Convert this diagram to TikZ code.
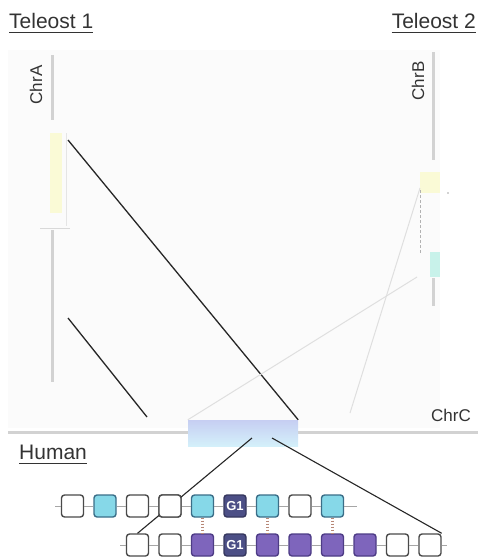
\documentclass[tikz,border=0pt]{standalone}
\usepackage{fontspec}
\setmainfont{Liberation Sans}
\usetikzlibrary{calc}
\definecolor{txt}{HTML}{333333}
\definecolor{chrgray}{HTML}{D2D2D2}
\definecolor{panel}{HTML}{FBFBFB}
\definecolor{cyanbox}{HTML}{86D8E8}
\definecolor{cyanedge}{HTML}{3A6E88}
\definecolor{purplebox}{HTML}{7E65BC}
\definecolor{purpleedge}{HTML}{4E3C86}
\definecolor{gonebox}{HTML}{4C4F86}
\definecolor{boxedge}{HTML}{4A4A4A}
\definecolor{lav}{HTML}{C6CEF2}
\definecolor{lcyan}{HTML}{D4F0FA}
\definecolor{pyellow}{HTML}{FAFAD6}
\definecolor{pcyan}{HTML}{C8F2EA}
\definecolor{dotc}{HTML}{B88878}
\begin{document}
\begin{tikzpicture}[x=1pt,y=-1pt,
 lbl/.style={text=txt,font=\fontsize{21}{24}\selectfont,inner sep=0},
 chrlbl/.style={text=txt,font=\fontsize{17}{20}\selectfont,inner sep=0},
 chr/.style={draw=chrgray,line width=3pt},
 gene/.style={rounded corners=3pt,minimum width=22pt,minimum height=22pt,inner sep=0,line width=1.4pt,draw=boxedge,fill=white},
 gwhite/.style={gene},
 gcyan/.style={gene,fill=cyanbox,draw=cyanedge},
 gpurple/.style={gene,fill=purplebox,draw=purpleedge},
 gone/.style={gene,fill=gonebox,draw=gonebox!70!black,text=white,font=\fontsize{13}{14}\selectfont\bfseries},
 link/.style={draw=gray!70,line width=0.9pt},
 ortho/.style={draw=dotc,line width=2.4pt,dash pattern=on 1.5pt off 1.5pt},
 syn/.style={draw=black!85,line width=1.3pt},
 faint/.style={draw=gray!25,line width=1pt},
 ul/.style={draw=txt,line width=0.8pt},
 block/.style={inner sep=0,draw=none}
]
\useasboundingbox (0,0) rectangle (478,557);
\fill[white] (0,0) rectangle (478,557);
% background panel
\fill[panel] (8,50) rectangle (440,428);

% titles
\node[lbl,anchor=south west] (t1) at (9,29) {Teleost 1};
\draw[ul] ($(t1.south west)+(0,3)$) -- ($(t1.south east)+(0,3)$);
\node[lbl,anchor=south east] (t2) at (476,29) {Teleost 2};
\draw[ul] ($(t2.south west)+(0,3)$) -- ($(t2.south east)+(0,3)$);
\node[lbl,anchor=south west] (hu) at (19,460) {Human};
\draw[ul] ($(hu.south west)+(0,3)$) -- ($(hu.south east)+(0,3)$);

% ChrA
\node[chrlbl,rotate=90] (lA) at (36,85) {ChrA};
\coordinate (A1) at (52,55);
\coordinate (A2) at (52,120);
\draw[chr] (A1) -- (A2);
\node[block,fill=pyellow,minimum width=12pt,minimum height=80pt] (yA) at (56,173) {};
\coordinate (A3) at (66,133);
\coordinate (A4) at (66,226);
\draw[draw=gray!20,line width=1pt] (A3) -- (A4);
\coordinate (A5) at (40,228);
\coordinate (A6) at (70,228);
\draw[draw=gray!30,line width=1pt] (A5) -- (A6);
\coordinate (A7) at (52,230);
\coordinate (A8) at (52,382);
\draw[chr] (A7) -- (A8);

% ChrB
\node[chrlbl,rotate=90] (lB) at (418,81) {ChrB};
\coordinate (B1) at (433,52);
\coordinate (B2) at (433,160);
\draw[chr] (B1) -- (B2);
\node[block,fill=pyellow,minimum width=20pt,minimum height=21pt] (yB) at (430,182.5) {};
\node[block,fill=pcyan,minimum width=10pt,minimum height=25pt] (cB) at (435,264.5) {};
\coordinate (B3) at (433,278);
\coordinate (B4) at (433,306);
\draw[chr] (B3) -- (B4);
\fill[gray!70] (448,193) circle (0.8pt);
\coordinate (B5) at (420,190);
\coordinate (B6) at (420,253);
\draw[draw=gray!60,line width=0.9pt,dash pattern=on 3pt off 2pt] (B5) -- (B6);

% ChrC
\node[chrlbl,anchor=east] (lC) at (471,415) {ChrC};
\coordinate (C1) at (8,432);
\coordinate (C2) at (478,432);
\draw[chr] (C1) -- (C2);
\node[block,minimum width=110pt,minimum height=26pt,top color=lav,bottom color=lcyan] (hbox) at (243,433) {};

% synteny lines
\coordinate (s1) at (68,140);
\coordinate (s2) at (68,318);
\coordinate (s3) at (147,417);
\coordinate (f1) at (420,188);
\coordinate (f2) at (350,413);
\coordinate (f3) at (417,277);
\draw[syn] (s1) -- (hbox.north east);
\draw[syn] (s2) -- (s3);
\draw[faint] (f1) -- (f2);
\draw[faint] (f3) -- (hbox.north west);

% human gene rows
\coordinate (h1) at (252,438);
\coordinate (h2) at (272,438);

% row 1
\foreach \i/\s [count=\k] in {0/gwhite,1/gcyan,2/gwhite,3/gwhite,4/gcyan,5/gone,6/gcyan,7/gwhite,8/gcyan}{
  \node[\s] (ra\k) at ({72.5+32.5*\i},506) {\ifnum\k=6 G1\fi};
}
% row 2
\foreach \i/\s [count=\k] in {2/gwhite,3/gwhite,4/gpurple,5/gone,6/gpurple,7/gpurple,8/gpurple,9/gpurple,10/gwhite,11/gwhite}{
  \node[\s] (rb\k) at ({72.5+32.5*\i},545) {\ifnum\k=4 G1\fi};
}
% links
\coordinate (ra0) at (55,506);
\coordinate (ra10) at (357,506);
\coordinate (rb0) at (120,545);
\coordinate (rb11) at (447,545);
\draw[link] (ra0) -- (ra1.west);
\draw[link] (ra9.east) -- (ra10);
\foreach \a/\b in {1/2,2/3,3/4,4/5,5/6,6/7,7/8,8/9}{\draw[link] (ra\a.east) -- (ra\b.west);}
\draw[link] (rb0) -- (rb1.west);
\draw[link] (rb10.east) -- (rb11);
\foreach \a/\b in {1/2,2/3,3/4,4/5,5/6,6/7,7/8,8/9,9/10}{\draw[link] (rb\a.east) -- (rb\b.west);}
% orthology
\draw[ortho] (ra5.south) -- (rb3.north);
\draw[ortho] (ra7.south) -- (rb5.north);
\draw[ortho] (ra9.south) -- (rb7.north);
% lines from human region
\draw[syn,line width=1.1pt] (h2) -- (rb10.north east);
\draw[syn,line width=1.1pt] (h1) -- (rb1.north);
\node[gwhite] at (ra4) {};
\end{tikzpicture}
\end{document}
